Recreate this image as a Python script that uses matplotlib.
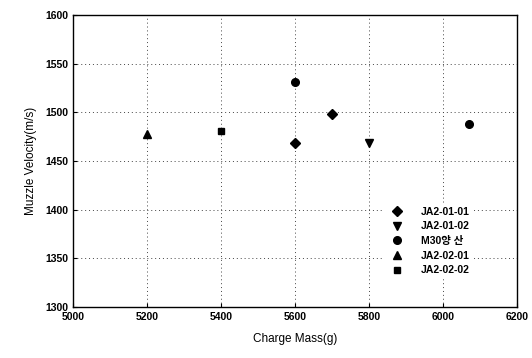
import matplotlib
matplotlib.use("Agg")
import matplotlib.pyplot as plt

plt.rcParams['font.family'] = ['Liberation Sans', 'Noto Sans CJK KR', 'DejaVu Sans']

# charge mass (g) vs muzzle velocity (m/s) per propellant lot
series_names = ["JA2-01-01", "JA2-01-02", "M30양 산", "JA2-02-01", "JA2-02-02"]
series_markers = ["D", "v", "o", "^", "s"]
mass_ja2_01_01 = [5600, 5700]
vel_ja2_01_01 = [1468, 1498]
mass_ja2_01_02 = [5800]
vel_ja2_01_02 = [1468]
mass_m30 = [5600, 6070]
vel_m30 = [1531, 1488]
mass_ja2_02_01 = [5200]
vel_ja2_02_01 = [1478]
mass_ja2_02_02 = [5400]
vel_ja2_02_02 = [1481]

xs = [mass_ja2_01_01, mass_ja2_01_02, mass_m30, mass_ja2_02_01, mass_ja2_02_02]
ys = [vel_ja2_01_01, vel_ja2_01_02, vel_m30, vel_ja2_02_01, vel_ja2_02_02]

fig = plt.figure(figsize=(5.32, 3.58), dpi=100)
ax = fig.add_axes([73 / 532, 1 - 307 / 358, 444 / 532, 292 / 358])

sizes = {"D": 5, "v": 5.5, "o": 5.5, "^": 5.5, "s": 4.5}
for name, mk, x, y in zip(series_names, series_markers, xs, ys):
    ax.plot(x, y, linestyle="none", marker=mk, color="black",
            markersize=sizes[mk], label=name)

ax.set_xlim(5000, 6200)
ax.set_ylim(1300, 1600)
ax.set_xticks(range(5000, 6201, 200))
ax.set_yticks(range(1300, 1601, 50))
ax.grid(True, linestyle=(0, (1, 3)), color="#444444", linewidth=0.7)
ax.tick_params(direction="in", length=3, width=0.8, labelsize=7.5)
for lbl in ax.get_xticklabels() + ax.get_yticklabels():
    lbl.set_fontweight("bold")
for sp in ax.spines.values():
    sp.set_linewidth(1.0)

ax.set_xlabel("Charge Mass(g)", fontsize=8.5, labelpad=8)
ax.set_ylabel("Muzzle Velocity(m/s)", fontsize=8.5, labelpad=6)

# white box without border so the grid stops behind the legend
leg = ax.legend(loc="lower right", bbox_to_anchor=(0.91, 0.083), frameon=True,
                fancybox=False, facecolor="white", edgecolor="none", framealpha=1,
                fontsize=7.5, handletextpad=1.3, labelspacing=0.45, borderpad=0.2)
for t in leg.get_texts():
    t.set_fontweight("bold")

fig.savefig("out.png", dpi=100)
